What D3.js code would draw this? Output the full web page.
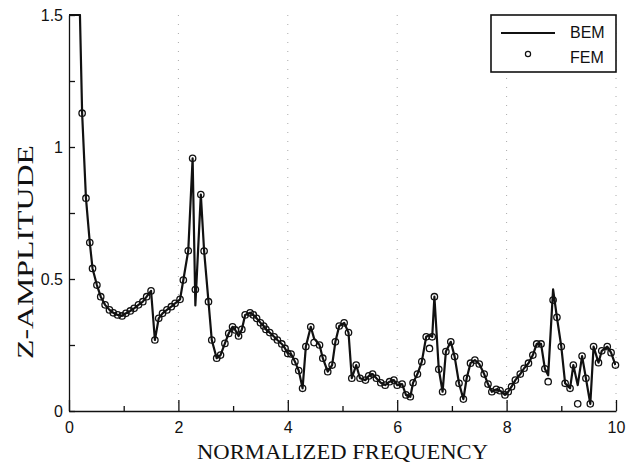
<!DOCTYPE html>
<html>
<head>
<meta charset="utf-8">
<script src="https://cdn.jsdelivr.net/npm/d3@7"></script>
<style>
    body { margin: 0; background: #fff; }
    .tick text { font-family: "Liberation Sans", Arial, sans-serif; font-size: 16px; fill: #111; }
    .axis path, .axis line { stroke: #111; stroke-width: 1.3; }
    .title { font-family: "Liberation Serif", "Times New Roman", serif; fill: #111; }
    .legend-text { font-family: "Liberation Sans", Arial, sans-serif; font-size: 16px; fill: #111; }
</style>
</head>
<body>
<div id="chart"></div>
<script>
// normalized frequency of every sample
var freq = [0.00, 0.20, 0.24, 0.31, 0.38, 0.43, 0.51, 0.58, 0.66, 0.74,
    0.81, 0.89, 0.97, 1.04, 1.12, 1.19, 1.27, 1.35, 1.42, 1.50,
    1.57, 1.64, 1.71, 1.79, 1.87, 1.94, 2.03, 2.09, 2.18, 2.26,
    2.31, 2.41, 2.47, 2.55, 2.61, 2.70, 2.77, 2.85, 2.92, 2.99,
    3.04, 3.10, 3.16, 3.22, 3.31, 3.37, 3.43, 3.50, 3.56, 3.60,
    3.67, 3.75, 3.81, 3.89, 3.95, 4.00, 4.06, 4.13, 4.20, 4.27,
    4.33, 4.42, 4.48, 4.58, 4.64, 4.73, 4.81, 4.87, 4.94, 5.03,
    5.11, 5.17, 5.25, 5.32, 5.42, 5.48, 5.55, 5.62, 5.70, 5.78,
    5.86, 5.94, 6.00, 6.09, 6.16, 6.24, 6.29, 6.37, 6.45, 6.53,
    6.59, 6.64, 6.68, 6.76, 6.83, 6.89, 6.98, 7.05, 7.13, 7.21,
    7.27, 7.34, 7.42, 7.50, 7.59, 7.66, 7.73, 7.81, 7.88, 7.97,
    8.03, 8.09, 8.16, 8.25, 8.32, 8.40, 8.48, 8.55, 8.63, 8.70,
    8.76, 8.85, 8.92, 9.00, 9.07, 9.16, 9.22, 9.30, 9.38, 9.45,
    9.53, 9.59, 9.68, 9.74, 9.84, 9.91, 9.99];

var bem = [1.50, 1.50, 1.128, 0.806, 0.638, 0.540, 0.477, 0.433, 0.402, 0.383,
    0.372, 0.364, 0.360, 0.370, 0.379, 0.389, 0.402, 0.414, 0.433, 0.455,
    0.269, 0.351, 0.370, 0.383, 0.395, 0.408, 0.423, 0.496, 0.607, 0.957,
    0.400, 0.820, 0.606, 0.414, 0.269, 0.200, 0.212, 0.256, 0.294, 0.319,
    0.307, 0.284, 0.309, 0.364, 0.372, 0.364, 0.351, 0.334, 0.322, 0.309,
    0.297, 0.281, 0.269, 0.254, 0.237, 0.218, 0.216, 0.187, 0.153, 0.086,
    0.244, 0.319, 0.275, 0.250, 0.200, 0.149, 0.174, 0.262, 0.322, 0.334,
    0.297, 0.124, 0.174, 0.124, 0.117, 0.133, 0.140, 0.124, 0.107, 0.098,
    0.111, 0.117, 0.098, 0.102, 0.061, 0.054, 0.107, 0.140, 0.187, 0.281,
    0.288, 0.281, 0.433, 0.158, 0.073, 0.225, 0.262, 0.206, 0.105, 0.045,
    0.124, 0.181, 0.193, 0.178, 0.140, 0.102, 0.073, 0.082, 0.077, 0.061,
    0.073, 0.092, 0.117, 0.140, 0.162, 0.181, 0.212, 0.254, 0.254, 0.160,
    0.135, 0.461, 0.355, 0.244, 0.105, 0.086, 0.174, 0.098, 0.208, 0.124,
    0.027, 0.244, 0.183, 0.228, 0.244, 0.221, 0.174];

var fem = [null, null, 1.128, 0.806, 0.638, 0.540, 0.477, 0.433, 0.402, 0.383,
    0.372, 0.364, 0.360, 0.370, 0.379, 0.389, 0.402, 0.414, 0.433, 0.455,
    0.269, 0.351, 0.370, 0.383, 0.395, 0.408, 0.423, 0.496, 0.607, 0.957,
    0.460, 0.820, 0.606, 0.414, 0.269, 0.200, 0.212, 0.256, 0.294, 0.319,
    0.307, 0.284, 0.309, 0.364, 0.372, 0.364, 0.351, 0.334, 0.322, 0.309,
    0.297, 0.281, 0.269, 0.254, 0.237, 0.218, 0.216, 0.187, 0.153, 0.086,
    0.244, 0.319, 0.259, 0.250, 0.200, 0.149, 0.174, 0.262, 0.322, 0.334,
    0.297, 0.124, 0.174, 0.124, 0.117, 0.133, 0.140, 0.124, 0.107, 0.098,
    0.111, 0.117, 0.098, 0.102, 0.061, 0.054, 0.107, 0.140, 0.187, 0.281,
    0.237, 0.281, 0.433, 0.158, 0.073, 0.225, 0.262, 0.206, 0.105, 0.045,
    0.124, 0.181, 0.193, 0.178, 0.140, 0.102, 0.073, 0.082, 0.077, 0.061,
    0.073, 0.092, 0.117, 0.140, 0.162, 0.181, 0.212, 0.254, 0.254, 0.160,
    0.111, 0.420, 0.355, 0.244, 0.105, 0.086, 0.174, 0.027, 0.208, 0.124,
    0.027, 0.244, 0.183, 0.228, 0.244, 0.221, 0.174];

var xMajorTicks = [0, 2, 4, 6, 8, 10];
var xMinorTicks = [1, 3, 5, 7, 9];
var yTicks = [0, 0.25, 0.5, 0.75, 1, 1.25, 1.5];
var yTickLabels = {"0": "0", "0.5": "0.5", "1": "1", "1.5": "1.5"};
var legendNames = ["BEM", "FEM"];

var w = 627,
    h = 471,
    margin = {top: 15, right: 11, bottom: 60, left: 69},
    width = w - margin.left - margin.right,
    height = h - margin.top - margin.bottom;

var svg = d3.select("#chart").append("svg")
    .attr("width", w)
    .attr("height", h);

var g = svg.append("g").attr("transform", "translate(" + margin.left + "," + margin.top + ")");

var x = d3.scaleLinear()
    .domain([0, 10])
    .range([0, width]);
var y = d3.scaleLinear()
    .domain([0, 1.5])
    .range([height, 0]);

// faint dotted grid at the labelled frequencies
g.selectAll(".grid")
    .data(xMajorTicks.slice(1))
    .enter().append("line")
    .attr("class", "grid")
    .attr("x1", function (d) { return x(d); })
    .attr("x2", function (d) { return x(d); })
    .attr("y1", 0)
    .attr("y2", height)
    .style("stroke", "#aaa")
    .style("stroke-width", 1)
    .style("stroke-dasharray", "1,8");

g.append("g")
    .attr("class", "axis axis--x")
    .attr("transform", "translate(0," + height + ")")
    .call(d3.axisBottom(x).tickValues(xMajorTicks).tickSizeInner(-11).tickSizeOuter(0).tickPadding(11));

g.append("g")
    .attr("class", "axis axis--x-minor")
    .attr("transform", "translate(0," + height + ")")
    .call(d3.axisBottom(x).tickValues(xMinorTicks).tickSizeInner(-5).tickSizeOuter(0).tickFormat(""))
    .select(".domain").remove();

g.append("g")
    .attr("class", "axis axis--y")
    .call(d3.axisLeft(y).tickValues(yTicks).tickSizeInner(-6).tickSizeOuter(0).tickPadding(6)
        .tickFormat(function (d) {
            return yTickLabels[String(d)] || "";
        }));

var line = d3.line()
    .x(function (d, i) { return x(freq[i]); })
    .y(function (d) { return y(d); });

g.append("defs").append("clipPath")
    .attr("id", "clip")
    .append("rect")
    .attr("x", 0)
    .attr("y", -1)
    .attr("width", width)
    .attr("height", height + 1);

g.append("path")
    .datum(bem)
    .attr("clip-path", "url(#clip)")
    .attr("d", line)
    .style("fill", "none")
    .style("stroke", "#111")
    .style("stroke-width", 2.2)
    .style("stroke-linejoin", "round");

var femPoints = [];
fem.forEach(function (d, i) {
    if (d != null) {
        femPoints.push({f: freq[i], a: d});
    }
});

g.selectAll(".fem")
    .data(femPoints)
    .enter().append("circle")
    .attr("class", "fem")
    .attr("cx", function (d) { return x(d.f); })
    .attr("cy", function (d) { return y(d.a); })
    .attr("r", 3.2)
    .style("fill", "none")
    .style("stroke", "#111")
    .style("stroke-width", 1.3);

// legend box in the top right corner
var legend = g.append("g").attr("transform", "translate(" + (width - 125) + ",0)");
legend.append("rect")
    .attr("x", 0)
    .attr("y", 0)
    .attr("width", 125)
    .attr("height", 57)
    .style("fill", "#fff")
    .style("stroke", "#111")
    .style("stroke-width", 1.6);
legend.append("line")
    .attr("x1", 10)
    .attr("x2", 64)
    .attr("y1", 18)
    .attr("y2", 18)
    .style("stroke", "#111")
    .style("stroke-width", 2);
legend.append("circle")
    .attr("cx", 37)
    .attr("cy", 39)
    .attr("r", 2.6)
    .style("fill", "none")
    .style("stroke", "#111")
    .style("stroke-width", 1.2);
legend.selectAll(".legend-text")
    .data(legendNames)
    .enter().append("text")
    .attr("class", "legend-text")
    .attr("x", 79)
    .attr("y", function (d, i) { return 23 + i * 25; })
    .text(function (d) { return d; });

svg.append("text")
    .attr("class", "title")
    .attr("x", margin.left + width / 2)
    .attr("y", 459)
    .attr("text-anchor", "middle")
    .attr("textLength", 291)
    .attr("lengthAdjust", "spacingAndGlyphs")
    .style("font-size", "22px")
    .text("NORMALIZED FREQUENCY");

svg.append("text")
    .attr("class", "title")
    .attr("transform", "translate(33,252) rotate(-90)")
    .attr("text-anchor", "middle")
    .attr("textLength", 214)
    .attr("lengthAdjust", "spacingAndGlyphs")
    .style("font-size", "23px")
    .text("Z-AMPLITUDE");
</script>
</body>
</html>
